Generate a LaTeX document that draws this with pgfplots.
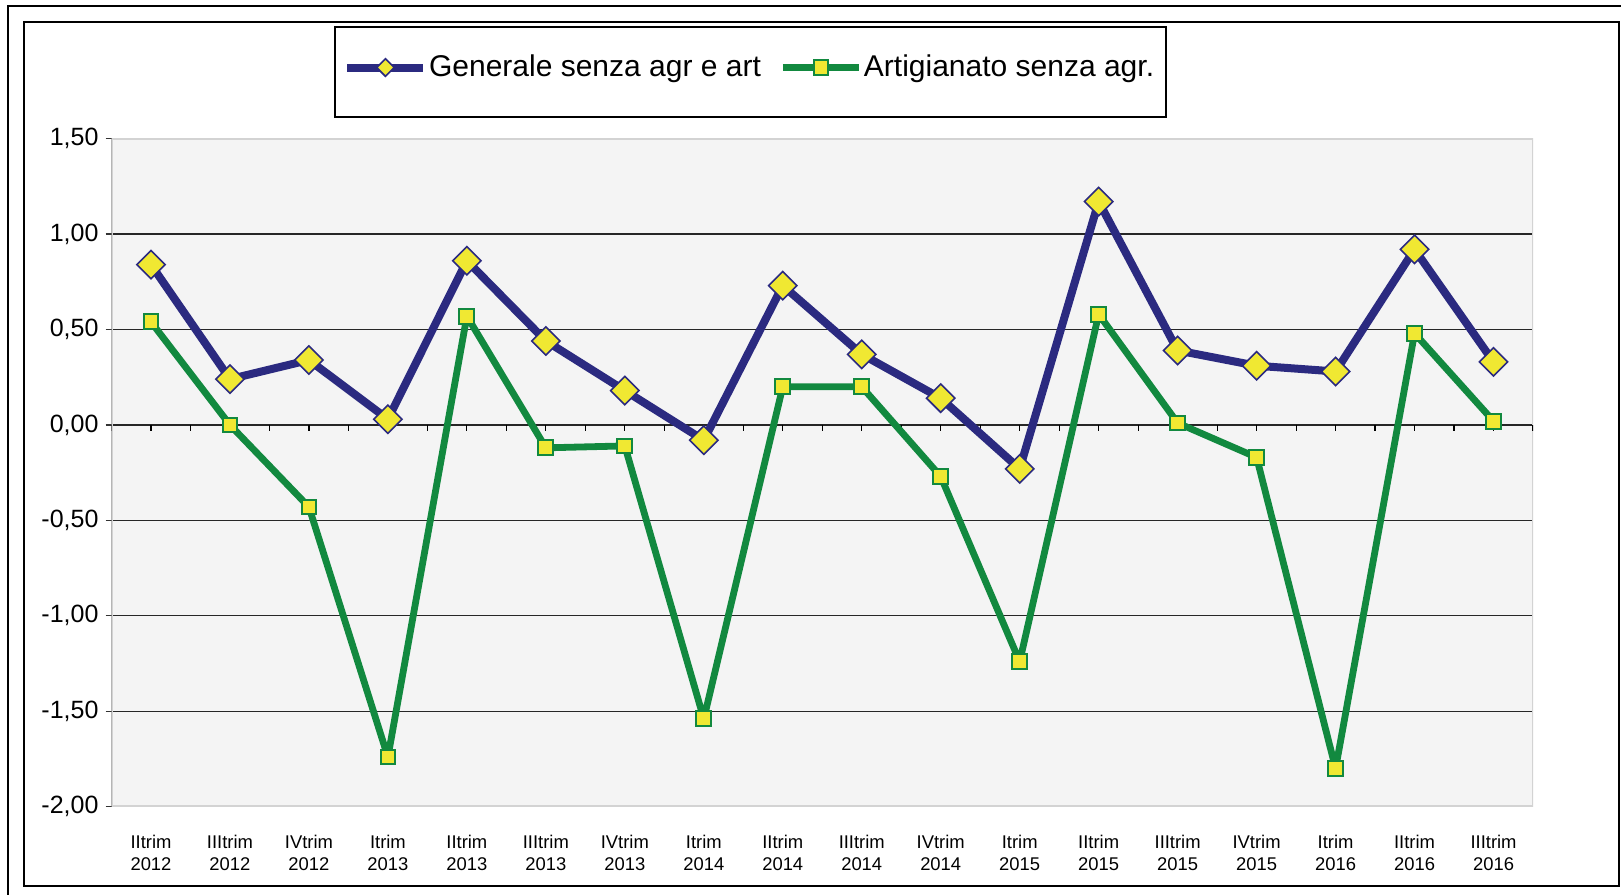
\documentclass[border=0pt]{standalone}
\usepackage{fontspec}
\setmainfont{Liberation Sans}
\usepackage{pgfplots}
\pgfplotsset{compat=1.18}
\definecolor{navyL}{HTML}{2B2A80}
\definecolor{greenL}{HTML}{12893F}
\definecolor{yelM}{HTML}{F0E832}
\definecolor{plotbg}{HTML}{F4F4F4}
\definecolor{plotbd}{HTML}{D3D3D3}
\pgfplotsset{smallmarklegend/.style={legend image code/.code={\draw[mark repeat=2, mark phase=2, ##1, every mark/.append style={scale=0.62}] plot coordinates {(0pt,0pt) (19pt,0pt) (38pt,0pt)};}}}
\begin{document}
\begin{tikzpicture}[x=1pt,y=1pt]
\useasboundingbox (0,0) rectangle (810.5,447);
\draw[line width=1.3pt] (4,-2) -- (4,444) -- (812,444);
\draw[line width=0.8pt] (12,4) rectangle (809.5,436);
\draw[line width=0.6pt, fill=white] (167.5,388.5) rectangle (583,433.5);
\begin{axis}[
  at={(55.75pt,43.65pt)}, anchor=south west,
  scale only axis, width=710.75pt, height=334.05pt,
  xmin=-0.5, xmax=17.5, ymin=-2, ymax=1.5,
  axis line style={draw=none},
  axis background/.style={fill=plotbg},
  xtick={0,...,17},
  xticklabels={{IItrim\\2012},{IIItrim\\2012},{IVtrim\\2012},{Itrim\\2013},{IItrim\\2013},{IIItrim\\2013},{IVtrim\\2013},{Itrim\\2014},{IItrim\\2014},{IIItrim\\2014},{IVtrim\\2014},{Itrim\\2015},{IItrim\\2015},{IIItrim\\2015},{IVtrim\\2015},{Itrim\\2016},{IItrim\\2016},{IIItrim\\2016}},
  xtick style={draw=none},
  xticklabel style={align=center, font=\fontsize{9.2}{11.2}\selectfont, yshift=-7.5pt},
  ytick={-2,-1.5,...,1.5},
  ytick pos=left,
  ytick style={black!80, line width=0.6pt},
  tick align=outside, major tick length=3pt,
  ymajorgrids, grid style={black!85, line width=0.6pt},
  yticklabel style={font=\fontsize{12.5}{15}\selectfont, /pgf/number format/.cd, fixed, fixed zerofill, precision=2, use comma, assume math mode=true},
  legend columns=2,
  legend style={at={(0.1629,1.1063)}, anchor=west, draw=none, fill=none, inner sep=0pt,
    font=\fontsize{15}{18}\selectfont,
    nodes={inner xsep=0.8pt, inner ysep=0pt},
    /tikz/every even column/.append style={column sep=8.5pt}},
  legend image code/.code={\draw[mark repeat=2, mark phase=2, #1] plot coordinates {(0pt,0pt) (19pt,0pt) (38pt,0pt)};},
]
\draw[plotbd, line width=1.5pt] (rel axis cs:0,0) rectangle (rel axis cs:1,1);
\draw[black!70, line width=0.6pt] (rel axis cs:0,0) -- (rel axis cs:0,1);
\pgfplotsinvokeforeach{-0.5,0,...,17.5}{\draw[black, line width=0.6pt] (axis cs:#1,0) -- ([yshift=-3pt]axis cs:#1,0);}
\addplot[navyL, line width=4pt, line join=round, mark=square*, mark size=5pt,
  mark options={solid, fill=yelM, draw=navyL, line width=0.8pt, rotate=45, line join=miter},
  smallmarklegend]
  coordinates {(0,0.84) (1,0.24) (2,0.34) (3,0.03) (4,0.86) (5,0.44) (6,0.18) (7,-0.08) (8,0.73) (9,0.37) (10,0.14) (11,-0.23) (12,1.17) (13,0.39) (14,0.31) (15,0.28) (16,0.92) (17,0.33)};
\addlegendentry{Generale senza agr e art}
\addplot[greenL, line width=3.4pt, line join=round, mark=square*, mark size=3.7pt,
  mark options={solid, fill=yelM, draw=greenL, line width=1pt, line join=miter}]
  coordinates {(0,0.54) (1,0.00) (2,-0.43) (3,-1.74) (4,0.57) (5,-0.12) (6,-0.11) (7,-1.54) (8,0.20) (9,0.20) (10,-0.27) (11,-1.24) (12,0.58) (13,0.01) (14,-0.17) (15,-1.80) (16,0.48) (17,0.02)};
\addlegendentry{Artigianato senza agr.}
\end{axis}
\end{tikzpicture}
\end{document}
